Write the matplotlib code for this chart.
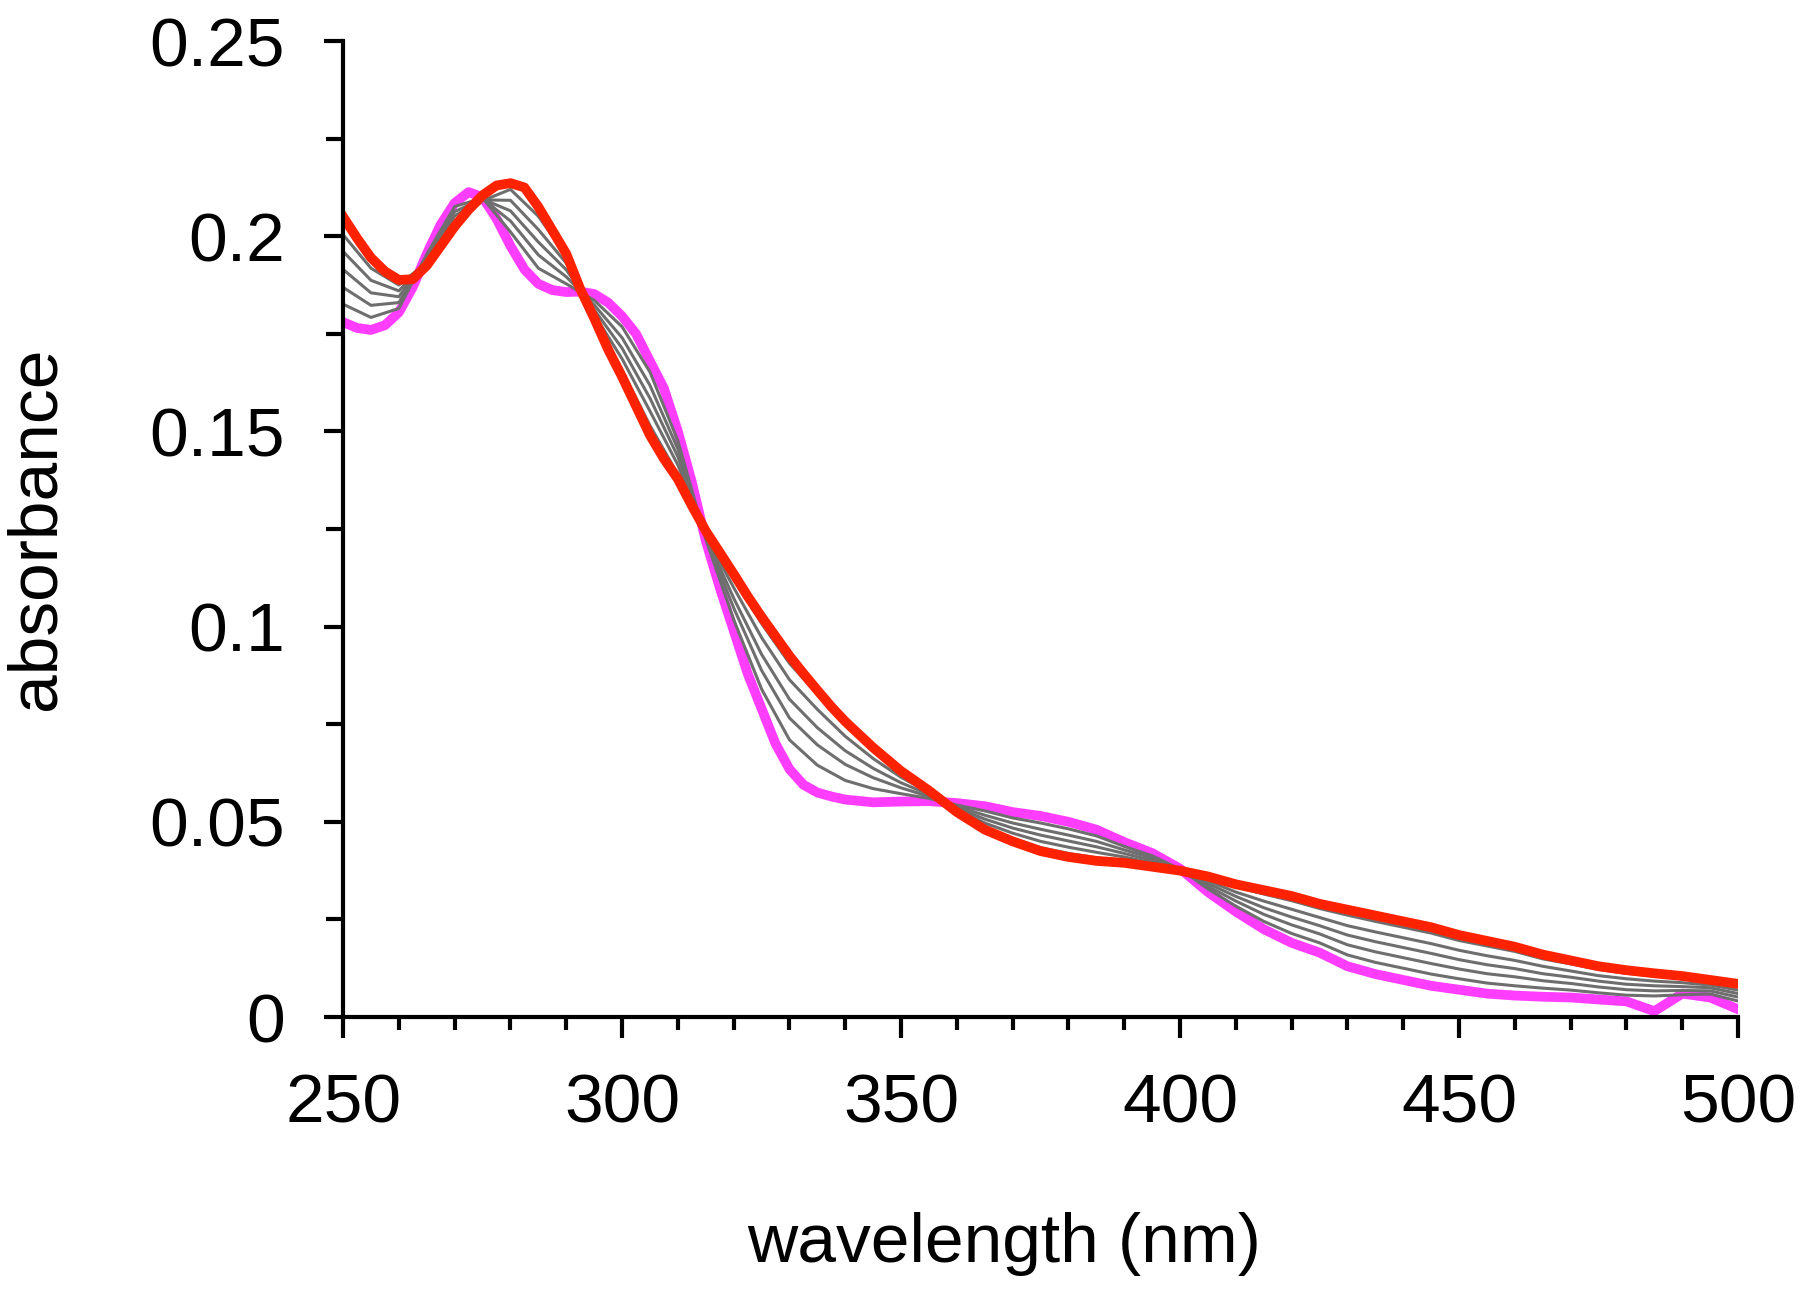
import matplotlib
matplotlib.use("Agg")
import matplotlib.pyplot as plt
from matplotlib.ticker import MultipleLocator

# wavelength grid for the gray spectra (nm)
wavelength = list(range(250, 505, 5))
# finer grid for the first and last spectra (2.5 nm up to 340 nm, then 5 nm)
wavelength_fine = [250 + 2.5 * i for i in range(37)] + list(range(345, 505, 5))

# starting spectrum (magenta)
abs_start = [0.178, 0.1765, 0.176, 0.1772, 0.1805, 0.187, 0.1955, 0.203, 0.2085, 0.2113,
             0.210, 0.2045, 0.1975, 0.1915, 0.1878, 0.1862, 0.1857, 0.1858, 0.1852, 0.183,
             0.1795, 0.175, 0.168, 0.161, 0.150, 0.137, 0.122, 0.110, 0.099, 0.088,
             0.079, 0.070, 0.0635, 0.0595, 0.0575, 0.0565, 0.0557,
             0.055, 0.0552, 0.0553, 0.0548, 0.054, 0.0525, 0.0515, 0.050, 0.048, 0.0448,
             0.042, 0.038, 0.032, 0.027, 0.0225, 0.019, 0.0165, 0.013, 0.011, 0.0095,
             0.008, 0.007, 0.006, 0.0055, 0.0052, 0.005, 0.0045, 0.004, 0.0015, 0.006,
             0.005, 0.002]

# final spectrum (red)
abs_end = [0.205, 0.1995, 0.1945, 0.191, 0.1888, 0.189, 0.1925, 0.1975, 0.2025, 0.2068,
           0.2105, 0.213, 0.2136, 0.2125, 0.2075, 0.2015, 0.1955, 0.1865, 0.179, 0.171,
           0.164, 0.1565, 0.149, 0.143, 0.1378, 0.131, 0.1245, 0.119, 0.1135, 0.1078,
           0.1025, 0.0975, 0.0925, 0.088, 0.0837, 0.0795, 0.0757,
           0.069, 0.063, 0.058, 0.0525, 0.048, 0.045, 0.0425, 0.041, 0.040, 0.0395,
           0.0385, 0.0375, 0.036, 0.034, 0.0325, 0.031, 0.029, 0.0275, 0.026, 0.0245,
           0.023, 0.021, 0.0195, 0.018, 0.016, 0.0145, 0.013, 0.012, 0.0112, 0.0105,
           0.0095, 0.0085]

# intermediate spectra (gray)
abs_mid1 = [0.1826, 0.1792, 0.1815, 0.1954, 0.2076, 0.2098, 0.2011, 0.1918, 0.1878, 0.1836,
            0.1768, 0.1652, 0.1476, 0.1224, 0.1018, 0.0840, 0.0710, 0.0645, 0.0606, 0.0585,
            0.0572, 0.0560, 0.0543, 0.0528, 0.0510, 0.0497, 0.0482, 0.0464, 0.0437, 0.0413,
            0.0379, 0.0328, 0.0284, 0.0245, 0.0214, 0.0190, 0.0159, 0.0140, 0.0125, 0.0110,
            0.0098, 0.0087, 0.0080, 0.0074, 0.0069, 0.0062, 0.0056, 0.0054, 0.0057, 0.0059,
            0.0041]
abs_mid2 = [0.1869, 0.1823, 0.1830, 0.1949, 0.2063, 0.2096, 0.2039, 0.1952, 0.1896, 0.1824,
            0.1740, 0.1618, 0.1455, 0.1228, 0.1048, 0.0888, 0.0766, 0.0697, 0.0647, 0.0613,
            0.0587, 0.0565, 0.0539, 0.0517, 0.0497, 0.0481, 0.0466, 0.0450, 0.0428, 0.0407,
            0.0378, 0.0335, 0.0297, 0.0263, 0.0236, 0.0213, 0.0185, 0.0167, 0.0152, 0.0137,
            0.0123, 0.0111, 0.0103, 0.0093, 0.0086, 0.0077, 0.0070, 0.0067, 0.0068, 0.0067,
            0.0051]
abs_mid3 = [0.1915, 0.1855, 0.1845, 0.1944, 0.2052, 0.2095, 0.2065, 0.1985, 0.1914, 0.1812,
            0.1713, 0.1585, 0.1435, 0.1231, 0.1073, 0.0929, 0.0814, 0.0741, 0.0682, 0.0637,
            0.0600, 0.0570, 0.0535, 0.0507, 0.0484, 0.0466, 0.0451, 0.0436, 0.0419, 0.0401,
            0.0377, 0.0342, 0.0309, 0.0280, 0.0256, 0.0234, 0.0210, 0.0193, 0.0178, 0.0163,
            0.0147, 0.0134, 0.0124, 0.0111, 0.0102, 0.0092, 0.0084, 0.0080, 0.0078, 0.0075,
            0.0060]
abs_mid4 = [0.1961, 0.1887, 0.1860, 0.1938, 0.2040, 0.2093, 0.2092, 0.2017, 0.1931, 0.1800,
            0.1686, 0.1552, 0.1414, 0.1234, 0.1100, 0.0972, 0.0864, 0.0788, 0.0719, 0.0662,
            0.0614, 0.0575, 0.0531, 0.0497, 0.0471, 0.0450, 0.0435, 0.0422, 0.0410, 0.0395,
            0.0376, 0.0349, 0.0320, 0.0297, 0.0276, 0.0255, 0.0234, 0.0218, 0.0203, 0.0188,
            0.0171, 0.0157, 0.0145, 0.0130, 0.0118, 0.0106, 0.0098, 0.0092, 0.0088, 0.0082,
            0.0069]
abs_mid5 = [0.2004, 0.1918, 0.1875, 0.1933, 0.2027, 0.2091, 0.2120, 0.2051, 0.1950, 0.1790,
            0.1657, 0.1515, 0.1390, 0.1238, 0.1123, 0.1008, 0.0906, 0.0827, 0.0750, 0.0683,
            0.0626, 0.0579, 0.0527, 0.0486, 0.0458, 0.0434, 0.0419, 0.0408, 0.0400, 0.0389,
            0.0376, 0.0356, 0.0333, 0.0315, 0.0298, 0.0278, 0.0261, 0.0245, 0.0230, 0.0215,
            0.0196, 0.0182, 0.0168, 0.0149, 0.0136, 0.0122, 0.0112, 0.0105, 0.0099, 0.0091,
            0.0080]

y_ticks = [0, 0.05, 0.1, 0.15, 0.2, 0.25]
y_ticklabels = ['0', '0.05', '0.1', '0.15', '0.2', '0.25']

plt.rcParams['font.family'] = ['Liberation Sans', 'DejaVu Sans']

fig = plt.figure(figsize=(18, 12.9), dpi=100)
ax = fig.add_axes([0.1906, 0.2116, 0.775, 0.7566])

ax.plot(wavelength_fine, abs_start, color='#ff3dff', lw=7, zorder=2,
        solid_joinstyle='round')
for series in [abs_mid1, abs_mid2, abs_mid3, abs_mid4, abs_mid5]:
    ax.plot(wavelength, series, color='#6e6e6e', lw=2.2, zorder=3)
ax.plot(wavelength_fine, abs_end, color='#ff2200', lw=7, zorder=4,
        solid_joinstyle='round')

ax.set_xlim(250, 500)
ax.set_ylim(0, 0.25)
ax.spines['top'].set_visible(False)
ax.spines['right'].set_visible(False)
for s in ['left', 'bottom']:
    ax.spines[s].set_linewidth(3)
    ax.spines[s].set_zorder(5)

ax.xaxis.set_major_locator(MultipleLocator(50))
ax.xaxis.set_minor_locator(MultipleLocator(10))
ax.yaxis.set_minor_locator(MultipleLocator(0.025))
ax.set_yticks(y_ticks)
ax.set_yticklabels(y_ticklabels)

ax.tick_params(axis='both', which='both', direction='out', width=3, labelsize=50)
ax.tick_params(axis='y', which='major', length=14, pad=28)
ax.tick_params(axis='y', which='minor', length=12)
ax.tick_params(axis='x', which='major', length=15, pad=25)
ax.tick_params(axis='x', which='minor', length=9)

ax.set_xlabel('wavelength (nm)', fontsize=50)
ax.set_ylabel('absorbance', fontsize=50)
ax.xaxis.set_label_coords(0.474, -0.2)
ax.yaxis.set_label_coords(-0.197, 0.501)

fig.savefig('out.png', dpi=100)
